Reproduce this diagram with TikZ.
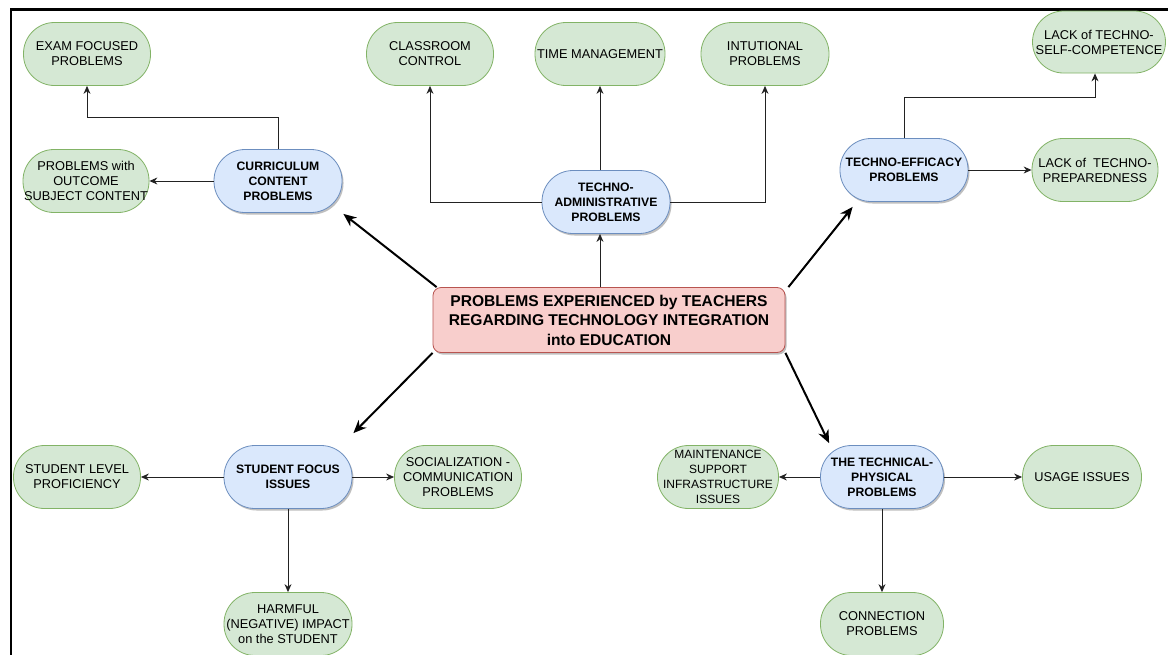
\documentclass[tikz,border=0pt]{standalone}
\usepackage{fontspec}
\setmainfont{Liberation Sans}
\usetikzlibrary{arrows.meta,calc,shadows}
\definecolor{gfill}{HTML}{D5E8D4}
\definecolor{gdraw}{HTML}{82B366}
\definecolor{bfill}{HTML}{DAE8FC}
\definecolor{bdraw}{HTML}{6C8EBF}
\definecolor{pfill}{HTML}{F8CECC}
\definecolor{pdraw}{HTML}{B85450}
\definecolor{tline}{HTML}{222222}
\begin{document}
\begin{tikzpicture}[x=1pt,y=-1pt,
  pill/.style={draw, rounded corners=31pt, minimum height=63pt, inner sep=0pt, align=center, line width=0.8pt},
  leaf/.style={pill, fill=gfill, draw=gdraw, font=\fontsize{12.8}{15}\selectfont},
  hub/.style={pill, fill=bfill, draw=bdraw, font=\bfseries\fontsize{12.2}{15}\selectfont,
    drop shadow={shadow xshift=1.5pt, shadow yshift=-2pt, opacity=0.25, fill=black}},
  root/.style={draw=pdraw, fill=pfill, rounded corners=8pt, minimum width=352pt, minimum height=65pt,
    inner sep=0pt, align=center, line width=0.8pt, font=\bfseries\fontsize{15.6}{19.5}\selectfont,
    drop shadow={shadow xshift=1.5pt, shadow yshift=-2pt, opacity=0.25, fill=black}},
  tarr/.style={draw=tline, line width=0.9pt, -{Stealth[length=8pt,width=7pt]}},
  rarr/.style={draw=black, line width=2pt, -{Stealth[length=13pt,width=11pt]}}
]
\useasboundingbox (0,0) rectangle (1168,654);
\fill[white] (0,0) rectangle (1168,654);
\draw[line width=2.2pt] (11,660) -- (11,9.5) -- (1170,9.5);

% root
\node[root] (main) at (609,320) {PROBLEMS EXPERIENCED by TEACHERS\\REGARDING TECHNOLOGY INTEGRATION\\into EDUCATION};

% hubs
\node[hub, minimum width=128pt] (curr) at (278,181) {CURRICULUM\\CONTENT\\PROBLEMS};
\node[hub, minimum width=128pt] (admin) at (606,202) {TECHNO-\\ADMINISTRATIVE\\PROBLEMS};
\node[hub, minimum width=128pt] (effic) at (904,170) {TECHNO-EFFICACY\\PROBLEMS};
\node[hub, minimum width=128pt] (stud) at (288,477) {STUDENT FOCUS\\ISSUES};
\node[hub, minimum width=123pt] (tech) at (882,477) {THE TECHNICAL-\\PHYSICAL\\PROBLEMS};

% leaves
\node[leaf, minimum width=127pt] (exam) at (87,54) {EXAM FOCUSED\\PROBLEMS};
\node[leaf, minimum width=126pt] (outc) at (86,181) {PROBLEMS with\\OUTCOME\\SUBJECT CONTENT};
\node[leaf, minimum width=127pt] (class) at (430,54) {CLASSROOM\\CONTROL};
\node[leaf, minimum width=130pt] (time) at (600,54) {TIME MANAGEMENT};
\node[leaf, minimum width=128pt] (intut) at (765,54) {INTUTIONAL\\PROBLEMS};
\node[leaf, minimum width=133pt, minimum height=62pt] (comp) at (1099,42) {LACK of TECHNO-\\SELF-COMPETENCE};
\node[leaf, minimum width=126pt] (prep) at (1095,170) {LACK of\ \ TECHNO-\\PREPAREDNESS};
\node[leaf, minimum width=127pt] (prof) at (77,477) {STUDENT LEVEL\\PROFICIENCY};
\node[leaf, minimum width=127pt] (soc) at (458,477) {SOCIALIZATION -\\COMMUNICATION\\PROBLEMS};
\node[leaf, minimum width=128pt] (harm) at (288,624) {HARMFUL\\(NEGATIVE) IMPACT\\on the STUDENT};
\node[leaf, minimum width=121pt, font=\fontsize{12}{15}\selectfont] (maint) at (718,477) {MAINTENANCE\\SUPPORT\\INFRASTRUCTURE\\ISSUES};
\node[leaf, minimum width=119pt] (usage) at (1082,477) {USAGE ISSUES};
\node[leaf, minimum width=123pt] (conn) at (882,624) {CONNECTION\\PROBLEMS};

% radial arrows
\draw[rarr] ($(main.north west)+(4,0)$) -- ($(curr.south east)+(1,1)$);
\draw[tarr] (main.north -| time.south) -- (admin.south -| time.south);
\draw[rarr] ($(main.north east)+(3,0)$) -- ($(effic.south west)+(13,5)$);
\draw[rarr] (main.south west) -- ($(stud.north east)+(1,-12)$);
\draw[rarr] (main.south east) -- ($(tech.north west)+(9,-2)$);

% tree arrows
\draw[tarr] (curr.north) -- ++(0,-32) -| (exam.south);
\draw[tarr] (curr.west) -- (outc.east);
\draw[tarr] (admin.west) -| (class.south);
\draw[tarr] (admin.north -| time.south) -- (time.south);
\draw[tarr] (admin.east) -| (intut.south);
\draw[tarr] (effic.north) -- ++(0,-41) -| ($(comp.south)+(-4,0)$);
\draw[tarr] (effic.east) -- (prep.west);
\draw[tarr] (stud.west) -- (prof.east);
\draw[tarr] (stud.east) -- (soc.west);
\draw[tarr] (stud.south) -- (harm.north);
\draw[tarr] (tech.west) -- (maint.east);
\draw[tarr] (tech.east) -- (usage.west);
\draw[tarr] (tech.south) -- (conn.north);
\end{tikzpicture}
\end{document}
